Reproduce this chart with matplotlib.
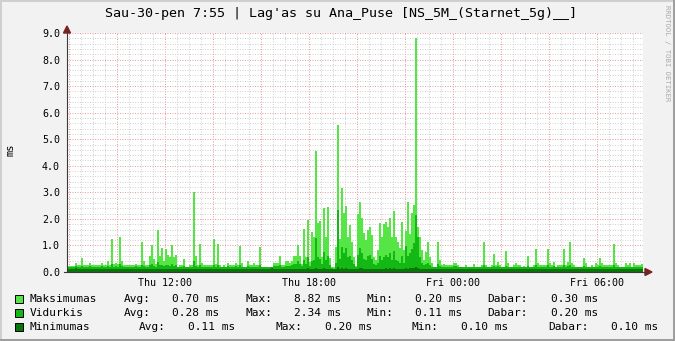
import numpy as np
import matplotlib
matplotlib.use("Agg")
import matplotlib.pyplot as plt
from matplotlib.patches import Rectangle, Polygon
from matplotlib.lines import Line2D

W, H = 675, 341

title = "Sau-30-pen 7:55 | Lag'as su Ana_Puse [NS_5M_(Starnet_5g)__]"
y_label = "ms"
watermark = "RRDTOOL / TOBI OETIKER"
start_hour = 7 + 55 / 60          # Thu 07:55
step_minutes = 5
xtick_hours = [12, 18, 24, 30]
xtick_labels = ["Thu 12:00", "Thu 18:00", "Fri 00:00", "Fri 06:00"]
ytick_values = [0, 1, 2, 3, 4, 5, 6, 7, 8, 9]
ytick_labels = ["0.0", "1.0", "2.0", "3.0", "4.0", "5.0", "6.0", "7.0", "8.0", "9.0"]

# Maksimumas (ms), 5-minute steps, one row per hour
maksimumas = [
    0.23, 0.23, 0.23, 0.23, 0.35, 0.25, 0.25, 0.53, 0.25, 0.25, 0.25, 0.35,
    0.25, 0.25, 0.25, 0.25, 0.25, 0.35, 0.25, 0.25, 0.43, 0.25, 1.24, 0.30,
    0.35, 0.30, 1.33, 0.40, 0.25, 0.25, 0.25, 0.25, 0.25, 0.26, 0.30, 0.25,
    0.25, 1.14, 0.40, 0.25, 0.25, 0.60, 1.02, 0.50, 0.30, 1.58, 0.60, 0.92,
    0.40, 0.87, 0.65, 0.55, 1.02, 0.55, 0.65, 0.20, 0.25, 0.25, 0.49, 0.20,
    0.20, 0.26, 0.26, 3.02, 0.61, 0.26, 1.05, 0.35, 0.26, 0.26, 0.26, 0.26,
    0.26, 1.24, 0.30, 1.05, 0.26, 0.20, 0.25, 0.20, 0.35, 0.25, 0.25, 0.25,
    0.35, 0.25, 0.98, 0.35, 0.20, 0.20, 0.40, 0.26, 0.26, 0.35, 0.25, 0.25,
    0.93, 0.20, 0.20, 0.20, 0.20, 0.20, 0.20, 0.35, 0.35, 0.35, 0.61, 0.26,
    0.26, 0.43, 0.40, 0.35, 0.43, 0.60, 0.62, 1.00, 0.62, 0.30, 1.62, 0.57,
    1.96, 0.39, 1.52, 1.33, 4.57, 1.86, 1.93, 0.57, 2.41, 1.33, 2.43, 0.53,
    0.20, 0.20, 0.96, 5.55, 1.26, 3.16, 2.21, 2.48, 1.33, 1.77, 1.14, 0.57,
    0.22, 2.18, 2.63, 2.02, 1.45, 1.20, 1.60, 1.70, 1.38, 0.57, 0.45, 0.83,
    1.83, 1.33, 1.79, 1.90, 1.70, 2.02, 1.33, 2.30, 1.33, 1.14, 0.89, 1.88,
    0.83, 1.54, 2.63, 1.43, 2.21, 2.54, 8.82, 1.70, 1.33, 0.83, 0.45, 0.77,
    1.13, 0.58, 0.33, 0.20, 0.20, 1.13, 0.45, 0.26, 0.30, 0.25, 0.25, 0.25,
    0.25, 0.33, 0.33, 0.25, 0.20, 0.20, 0.20, 0.26, 0.20, 0.20, 0.20, 0.30,
    0.20, 0.20, 0.20, 0.26, 1.13, 0.26, 0.20, 0.20, 0.26, 0.68, 0.26, 0.39,
    0.26, 0.20, 0.20, 0.79, 0.33, 0.20, 0.20, 0.28, 0.33, 0.26, 0.26, 0.20,
    0.22, 0.20, 0.60, 0.20, 0.20, 0.26, 0.87, 0.35, 0.26, 0.26, 0.26, 0.26,
    0.87, 0.35, 0.26, 0.39, 0.20, 0.26, 0.26, 0.26, 0.87, 0.26, 0.39, 1.14,
    0.35, 0.26, 0.20, 0.20, 0.20, 0.20, 0.54, 0.33, 0.20, 0.20, 0.26, 0.20,
    0.35, 0.26, 0.54, 0.35, 0.26, 0.26, 0.26, 0.26, 0.26, 1.05, 0.35, 0.26,
    0.20, 0.20, 0.20, 0.35, 0.26, 0.35, 0.20, 0.35, 0.26, 0.26, 0.26, 0.30,
]

# Vidurkis (ms)
vidurkis = [
    0.19, 0.19, 0.19, 0.19, 0.24, 0.19, 0.19, 0.22, 0.19, 0.19, 0.19, 0.22,
    0.19, 0.19, 0.19, 0.19, 0.19, 0.22, 0.19, 0.19, 0.24, 0.19, 0.30, 0.20,
    0.22, 0.20, 0.30, 0.22, 0.19, 0.19, 0.19, 0.19, 0.19, 0.19, 0.22, 0.19,
    0.19, 0.28, 0.22, 0.19, 0.19, 0.26, 0.30, 0.24, 0.20, 0.36, 0.26, 0.28,
    0.22, 0.26, 0.26, 0.24, 0.30, 0.24, 0.26, 0.19, 0.19, 0.19, 0.22, 0.18,
    0.18, 0.19, 0.19, 0.40, 0.24, 0.19, 0.28, 0.20, 0.19, 0.19, 0.19, 0.19,
    0.19, 0.28, 0.20, 0.26, 0.19, 0.18, 0.19, 0.18, 0.22, 0.19, 0.19, 0.19,
    0.22, 0.19, 0.26, 0.20, 0.18, 0.18, 0.22, 0.19, 0.19, 0.20, 0.19, 0.19,
    0.26, 0.18, 0.18, 0.18, 0.18, 0.18, 0.18, 0.22, 0.22, 0.22, 0.26, 0.19,
    0.19, 0.24, 0.22, 0.22, 0.26, 0.30, 0.32, 0.40, 0.30, 0.22, 0.45, 0.30,
    0.58, 0.24, 0.40, 0.45, 1.28, 0.55, 0.50, 0.30, 0.75, 0.45, 0.60, 0.28,
    0.14, 0.11, 0.35, 2.34, 0.50, 0.95, 0.70, 0.90, 0.55, 0.60, 0.45, 0.30,
    0.18, 0.65, 0.90, 0.70, 0.50, 0.45, 0.60, 0.65, 0.50, 0.30, 0.25, 0.35,
    0.60, 0.45, 0.55, 0.65, 0.55, 0.70, 0.45, 0.80, 0.45, 0.40, 0.35, 0.60,
    0.33, 0.98, 0.60, 0.70, 0.85, 1.10, 2.15, 1.33, 0.58, 0.35, 0.25, 0.30,
    0.35, 0.25, 0.20, 0.18, 0.18, 0.30, 0.22, 0.19, 0.20, 0.19, 0.19, 0.19,
    0.19, 0.22, 0.22, 0.19, 0.18, 0.18, 0.18, 0.19, 0.18, 0.18, 0.18, 0.20,
    0.18, 0.18, 0.18, 0.19, 0.28, 0.19, 0.18, 0.18, 0.19, 0.24, 0.19, 0.22,
    0.19, 0.18, 0.18, 0.24, 0.20, 0.18, 0.18, 0.19, 0.20, 0.19, 0.19, 0.18,
    0.19, 0.18, 0.22, 0.18, 0.18, 0.19, 0.26, 0.20, 0.19, 0.19, 0.19, 0.19,
    0.26, 0.20, 0.19, 0.22, 0.18, 0.19, 0.19, 0.19, 0.26, 0.19, 0.22, 0.28,
    0.20, 0.19, 0.18, 0.18, 0.18, 0.18, 0.22, 0.20, 0.18, 0.18, 0.19, 0.18,
    0.20, 0.19, 0.22, 0.20, 0.19, 0.19, 0.19, 0.19, 0.19, 0.28, 0.20, 0.19,
    0.18, 0.18, 0.18, 0.20, 0.19, 0.20, 0.18, 0.20, 0.19, 0.19, 0.19, 0.20,
]

# Minimumas (ms)
minimumas = [
    0.11, 0.11, 0.11, 0.11, 0.14, 0.11, 0.11, 0.11, 0.10, 0.10, 0.11, 0.11,
    0.11, 0.10, 0.10, 0.11, 0.11, 0.11, 0.10, 0.11, 0.11, 0.10, 0.12, 0.11,
    0.11, 0.11, 0.12, 0.11, 0.10, 0.10, 0.11, 0.11, 0.10, 0.10, 0.13, 0.13,
    0.11, 0.12, 0.11, 0.10, 0.10, 0.11, 0.12, 0.11, 0.11, 0.13, 0.11, 0.12,
    0.11, 0.11, 0.11, 0.11, 0.12, 0.11, 0.11, 0.10, 0.10, 0.10, 0.11, 0.10,
    0.10, 0.10, 0.10, 0.12, 0.11, 0.10, 0.11, 0.10, 0.10, 0.10, 0.10, 0.10,
    0.10, 0.11, 0.10, 0.11, 0.10, 0.10, 0.10, 0.10, 0.10, 0.10, 0.10, 0.10,
    0.10, 0.10, 0.11, 0.10, 0.10, 0.10, 0.10, 0.10, 0.10, 0.10, 0.10, 0.10,
    0.10, 0.10, 0.10, 0.10, 0.10, 0.13, 0.14, 0.11, 0.10, 0.10, 0.11, 0.10,
    0.10, 0.11, 0.11, 0.10, 0.11, 0.11, 0.12, 0.12, 0.12, 0.11, 0.13, 0.12,
    0.14, 0.11, 0.12, 0.12, 0.16, 0.13, 0.12, 0.11, 0.14, 0.12, 0.13, 0.11,
    0.10, 0.10, 0.12, 0.20, 0.12, 0.14, 0.13, 0.15, 0.12, 0.13, 0.12, 0.11,
    0.10, 0.13, 0.16, 0.14, 0.12, 0.12, 0.13, 0.13, 0.12, 0.11, 0.11, 0.12,
    0.13, 0.12, 0.13, 0.14, 0.13, 0.14, 0.12, 0.15, 0.12, 0.12, 0.11, 0.13,
    0.11, 0.14, 0.13, 0.14, 0.15, 0.16, 0.18, 0.15, 0.12, 0.11, 0.11, 0.11,
    0.12, 0.11, 0.10, 0.10, 0.10, 0.11, 0.10, 0.10, 0.10, 0.10, 0.10, 0.10,
    0.10, 0.11, 0.11, 0.10, 0.10, 0.10, 0.10, 0.10, 0.10, 0.10, 0.10, 0.10,
    0.10, 0.10, 0.10, 0.10, 0.12, 0.10, 0.10, 0.10, 0.10, 0.11, 0.10, 0.11,
    0.10, 0.10, 0.10, 0.11, 0.10, 0.10, 0.10, 0.10, 0.10, 0.10, 0.10, 0.10,
    0.10, 0.10, 0.11, 0.10, 0.10, 0.10, 0.12, 0.10, 0.10, 0.10, 0.10, 0.10,
    0.12, 0.10, 0.10, 0.11, 0.10, 0.10, 0.10, 0.10, 0.12, 0.10, 0.11, 0.12,
    0.10, 0.10, 0.10, 0.10, 0.10, 0.10, 0.11, 0.10, 0.10, 0.10, 0.10, 0.10,
    0.10, 0.10, 0.11, 0.10, 0.10, 0.10, 0.10, 0.10, 0.10, 0.12, 0.10, 0.10,
    0.10, 0.10, 0.10, 0.11, 0.10, 0.11, 0.10, 0.11, 0.10, 0.10, 0.10, 0.10,
]

series_names = ["Maksimumas", "Vidurkis", "Minimumas"]
legend_avg = ["0.70 ms", "0.28 ms", "0.11 ms"]
legend_max = ["8.82 ms", "2.34 ms", "0.20 ms"]
legend_min = ["0.20 ms", "0.11 ms", "0.10 ms"]
legend_now = ["0.30 ms", "0.20 ms", "0.10 ms"]

# ---- styling ----
C_BACK = "#F2F2F2"
C_MAX = "#55E646"
C_AVG = "#14B814"
C_MIN = "#0A760A"
C_GRID = "#D2D2D2"
C_MGRID = "#EBA0A0"
C_AXIS = "#3A3A3A"
C_ARROW = "#801F1F"
MONO = "DejaVu Sans Mono"

fig = plt.figure(figsize=(W / 100, H / 100), dpi=100, facecolor=C_BACK)


def fx(x):
    return x / W


def fy(y):
    return 1 - y / H


ax = fig.add_axes([fx(67), fy(272), 576 / W, 239 / H])
ax.set_facecolor("white")
for s in ax.spines.values():
    s.set_visible(False)

n = len(maksimumas)
edges = start_hour + np.arange(n + 1) * step_minutes / 60.0
end_hour = edges[-1]
ax.set_xlim(start_hour, end_hour)
ax.set_ylim(0, 9)

# grid
dot = (0, (1, 1.5))
for yv in np.arange(0.2, 9.01, 0.2):
    if abs(yv - round(yv)) > 1e-6:
        ax.axhline(yv, color=C_GRID, lw=0.72, ls=dot, zorder=0.5)
h = np.ceil(start_hour * 2) / 2
while h < end_hour:
    if abs(h / 2 - round(h / 2)) > 1e-6:
        ax.axvline(h, color=C_GRID, lw=0.72, ls=dot, zorder=0.5)
    h += 0.5
for yv in ytick_values[1:]:
    ax.axhline(yv, color=C_MGRID, lw=0.72, ls=dot, zorder=0.6)
h = np.ceil(start_hour / 2) * 2
while h < end_hour:
    ax.axvline(h, color=C_MGRID, lw=0.72, ls=dot, zorder=0.6)
    h += 2

# data areas
ax.stairs(maksimumas, edges, fill=True, color=C_MAX, lw=0, zorder=1)
ax.stairs(vidurkis, edges, fill=True, color=C_AVG, lw=0, zorder=1.1)
ax.stairs(minimumas, edges, fill=True, color=C_MIN, lw=0, zorder=1.2)

ax.set_xticks(xtick_hours)
ax.set_xticklabels(xtick_labels, fontsize=7.2, family=MONO)
ax.set_yticks(ytick_values)
ax.set_yticklabels(ytick_labels, fontsize=7.2, family=MONO)
ax.tick_params(axis="both", length=0)
ax.tick_params(axis="x", pad=4)
ax.tick_params(axis="y", pad=5)

# axes lines and arrows (pixel coordinates)
T = fig.transFigure
fig.add_artist(Line2D([fx(67), fx(67)], [fy(272), fy(30)], color=C_AXIS, lw=0.8, transform=T))
fig.add_artist(Line2D([fx(64), fx(648)], [fy(272), fy(272)], color=C_AXIS, lw=0.8, transform=T))
fig.add_artist(Polygon([[fx(63.5), fy(33)], [fx(70.5), fy(33)], [fx(67), fy(26)]],
                       closed=True, color=C_ARROW, transform=T))
fig.add_artist(Polygon([[fx(645), fy(268.5)], [fx(645), fy(275.5)], [fx(652), fy(272)]],
                       closed=True, color=C_ARROW, transform=T))

# 3D frame
fig.add_artist(Rectangle((0, 0), fx(2), 1, color="#CFCFCF", transform=T, lw=0))
fig.add_artist(Rectangle((0, fy(2)), 1, 2 / H, color="#CFCFCF", transform=T, lw=0))
fig.add_artist(Rectangle((fx(673), 0), fx(2), 1, color="#9E9E9E", transform=T, lw=0))
fig.add_artist(Rectangle((0, 0), 1, 2 / H, color="#9E9E9E", transform=T, lw=0))

# title, labels
fig.text(fx(341), fy(13), title, ha="center", va="center", fontsize=9.6, family=MONO)
fig.text(fx(11), fy(150), y_label, ha="center", va="center", rotation=90, fontsize=7.5, family=MONO)
fig.text(fx(667), fy(5), watermark, ha="center", va="top", rotation=270, fontsize=5.2,
         family=MONO, color="#AAAAAA")

# legend
colors = [C_MAX, C_AVG, C_MIN]
row_y = [299, 313, 327]
cols_a = [30, 124, 172, 245, 294, 366, 415, 487, 551]
cols_b = [30, 139, 188, 276, 325, 412, 461, 548, 611]
for i in range(3):
    yy = row_y[i]
    fig.add_artist(Rectangle((fx(15), fy(yy + 4)), 8 / W, 8 / H, facecolor=colors[i],
                             edgecolor="black", lw=0.7, transform=T))
    cols = cols_a if i < 2 else cols_b
    tokens = [series_names[i], "Avg:", legend_avg[i], "Max:", legend_max[i],
              "Min:", legend_min[i], "Dabar:", legend_now[i]]
    for cx, tok in zip(cols, tokens):
        fig.text(fx(cx), fy(yy), tok, ha="left", va="center", fontsize=8, family=MONO)

fig.savefig("out.png", dpi=100, facecolor=C_BACK)
